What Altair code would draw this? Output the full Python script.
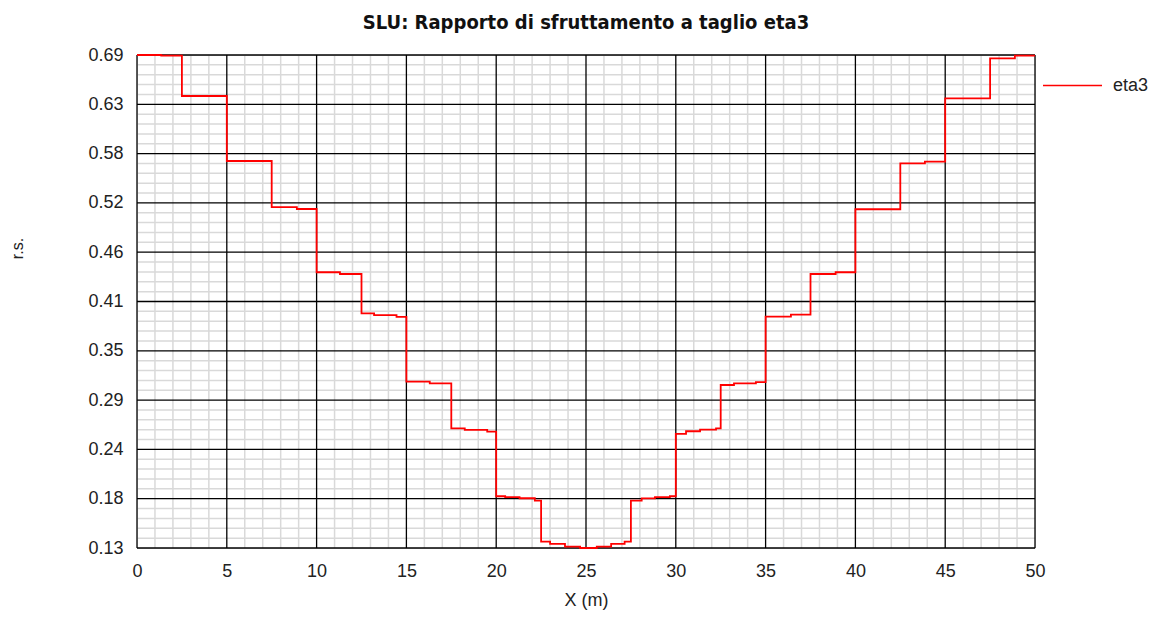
import altair as alt
import pandas as pd

# ---- data ----
x_steps = [0, 1.35, 2.5, 5, 7.5, 8.9, 10, 11.3, 12.5, 13.2, 14.45, 15, 16.3, 17.5,
           18.25, 19.5, 20, 20.5, 21.3, 22.15, 22.5, 23.0, 23.83, 24.67, 25.6, 26.4,
           27.15, 27.5, 28.1, 28.84, 29.67, 30, 30.57, 31.35, 32.24, 32.5, 33.24,
           34.46, 35, 36.41, 37.5, 38.9, 40, 42.5, 43.87, 45, 47.5, 48.88, 50]
eta3 = [0.6902, 0.6895, 0.6432, 0.5687, 0.5159, 0.5137, 0.4412, 0.4392, 0.3942,
        0.3922, 0.3900, 0.3158, 0.3139, 0.2624, 0.2605, 0.2585, 0.1845, 0.1834,
        0.1822, 0.1795, 0.1326, 0.1299, 0.1268, 0.1252, 0.1268, 0.1299, 0.1326,
        0.1795, 0.1820, 0.1834, 0.1845, 0.2559, 0.2590, 0.2609, 0.2624, 0.3120,
        0.3139, 0.3154, 0.3903, 0.3926, 0.4392, 0.4412, 0.5134, 0.5661, 0.5679,
        0.6406, 0.6864, 0.6894, 0.6894]
x_ticks = [0, 5, 10, 15, 20, 25, 30, 35, 40, 45, 50]
y_ticks = [0.1252, 0.1817, 0.2382, 0.2947, 0.3512, 0.4077, 0.4642, 0.5207,
           0.5772, 0.6337, 0.6902]
series_name = "eta3"

# minor grid positions (5 subdivisions per major interval)
x_minor = [x_ticks[i] + k * (x_ticks[i + 1] - x_ticks[i]) / 5
           for i in range(len(x_ticks) - 1) for k in range(1, 5)]
y_minor = [y_ticks[i] + k * (y_ticks[i + 1] - y_ticks[i]) / 5
           for i in range(len(y_ticks) - 1) for k in range(1, 5)]

df = pd.DataFrame({"x": x_steps, "v": eta3, "series": series_name})

FONT = "Liberation Sans"
xs = alt.Scale(domain=[0, 50], nice=False, zero=False)
ys = alt.Scale(domain=[y_ticks[0], y_ticks[-1]], nice=False, zero=False)

x_axis = alt.Axis(values=x_ticks, title="X (m)", grid=False, ticks=False,
                  domain=False, labelPadding=14, labelFontSize=18,
                  labelFlush=False, labelOverlap=False,
                  labelFont=FONT, labelColor="#222222",
                  titleFont=FONT, titleFontSize=18, titleFontWeight="normal",
                  titleColor="#222222", titleX=449, titleY=52,
                  titleBaseline="middle")
y_axis = alt.Axis(values=y_ticks, format=".2f", title="r.s.", grid=False,
                  ticks=False, domain=False, labelPadding=14,
                  labelFlush=False, labelOverlap=False,
                  labelFontSize=18, labelFont=FONT, labelColor="#222222",
                  titleFont=FONT, titleFontSize=16, titleFontWeight="normal",
                  titleColor="#222222", titleX=-120, titleY=193,
                  titleAngle=270, titleAlign="center",
                  titleBaseline="middle")

minor_x = alt.Chart(pd.DataFrame({"g": x_minor})).mark_rule(
    color="#d9d9d9", strokeWidth=1.5).encode(
    x=alt.X("g:Q", scale=xs, axis=x_axis, title="X (m)"))
minor_y = alt.Chart(pd.DataFrame({"g": y_minor})).mark_rule(
    color="#d9d9d9", strokeWidth=1.5).encode(
    y=alt.Y("g:Q", scale=ys, axis=y_axis, title="r.s."))
major_x = alt.Chart(pd.DataFrame({"g": x_ticks})).mark_rule(
    color="#000000", strokeWidth=1.3).encode(
    x=alt.X("g:Q", scale=xs, axis=x_axis, title="X (m)"))
major_y = alt.Chart(pd.DataFrame({"g": y_ticks})).mark_rule(
    color="#000000", strokeWidth=1.3).encode(
    y=alt.Y("g:Q", scale=ys, axis=y_axis, title="r.s."))

line = alt.Chart(df).mark_line(interpolate="step-after", strokeWidth=1.8).encode(
    x=alt.X("x:Q", scale=xs, axis=x_axis, title="X (m)"),
    y=alt.Y("v:Q", scale=ys, axis=y_axis, title="r.s."),
    color=alt.Color("series:N",
                    scale=alt.Scale(domain=[series_name], range=["#ff0000"]),
                    legend=alt.Legend(title=None, orient="none", legendX=905,
                                      legendY=0, symbolType="stroke",
                                      symbolSize=3481, symbolStrokeWidth=1.5,
                                      labelOffset=10, labelFontSize=18,
                                      labelFont=FONT, labelColor="#222222",
                                      padding=0)),
)

chart = alt.layer(minor_x, minor_y, major_x, major_y, line).properties(
    width=898, height=493,
    title=alt.TitleParams("SLU: Rapporto di sfruttamento a taglio eta3",
                          font="DejaVu Sans Condensed, Liberation Sans",
                          fontSize=20, fontWeight="bold", color="#111111",
                          anchor="middle", offset=13),
    autosize=alt.AutoSizeParams(type="none"),
    padding={"left": 129, "top": 47, "right": 114, "bottom": 64},
).configure_view(stroke=None).configure(background="white")

chart.save("out.html", embed_options={"renderer": "svg", "actions": False})
